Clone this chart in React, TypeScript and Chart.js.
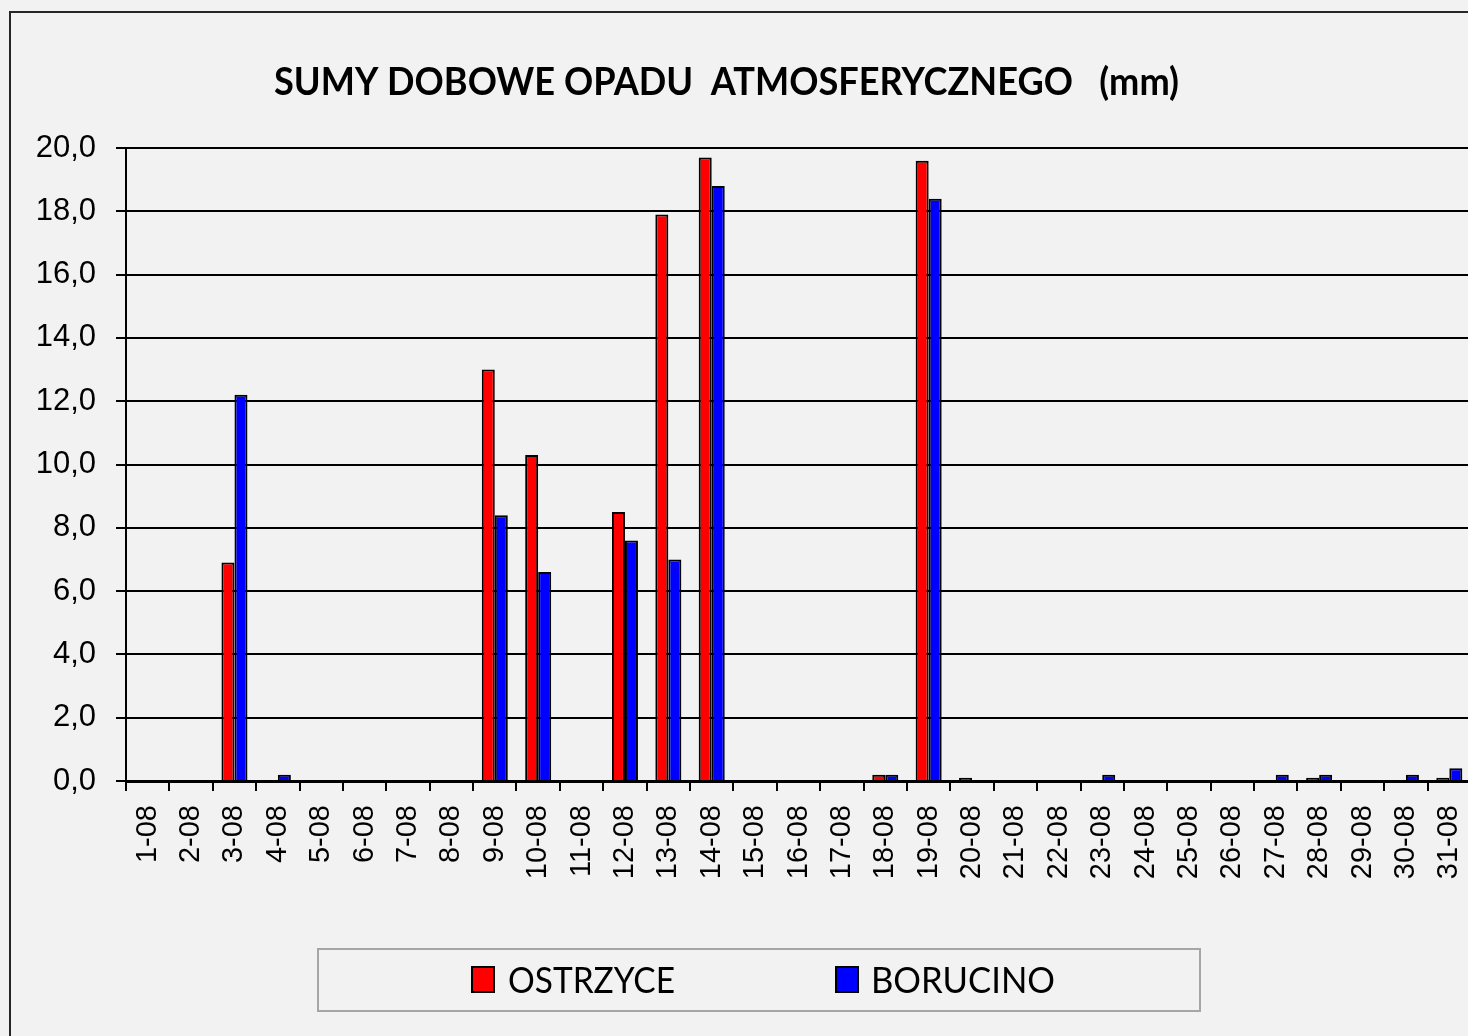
import { useEffect, useRef } from 'react';
import { Chart, registerables } from 'chart.js';

Chart.register(...registerables);

const TITLE = 'SUMY DOBOWE OPADU  ATMOSFERYCZNEGO   (mm)';
const DAYS = [
  '1-08', '2-08', '3-08', '4-08', '5-08', '6-08', '7-08', '8-08', '9-08', '10-08',
  '11-08', '12-08', '13-08', '14-08', '15-08', '16-08', '17-08', '18-08', '19-08', '20-08',
  '21-08', '22-08', '23-08', '24-08', '25-08', '26-08', '27-08', '28-08', '29-08', '30-08', '31-08',
];
const SERIES_NAMES = ['OSTRZYCE', 'BORUCINO'];
const OSTRZYCE = [0, 0, 6.9, 0, 0, 0, 0, 0, 13.0, 10.3, 0, 8.5, 17.9, 19.7, 0, 0, 0, 0.2, 19.6, 0.1, 0, 0, 0, 0, 0, 0, 0, 0.1, 0, 0, 0.1];
const BORUCINO = [0, 0, 12.2, 0.2, 0, 0, 0, 0, 8.4, 6.6, 0, 7.6, 7.0, 18.8, 0, 0, 0, 0.2, 18.4, 0, 0, 0, 0.2, 0, 0, 0, 0.2, 0.2, 0, 0.2, 0.4];
const Y_MIN = 0;
const Y_MAX = 20;
const Y_STEP = 2;

const BG = '#f2f2f2';

function fitText(ctx: CanvasRenderingContext2D, text: string, x: number, y: number, width: number, font: string) {
  ctx.save();
  ctx.font = font;
  ctx.textAlign = 'left';
  ctx.textBaseline = 'alphabetic';
  const w = ctx.measureText(text).width;
  ctx.translate(x, y);
  ctx.scale(width / w, 1);
  ctx.fillText(text, 0, 0);
  ctx.restore();
}

const decorPlugin = {
  id: 'decor',
  beforeDraw(chart: any) {
    const ctx = chart.ctx as CanvasRenderingContext2D;
    ctx.save();
    ctx.fillStyle = BG;
    ctx.fillRect(0, 0, chart.width, chart.height);
    ctx.strokeStyle = '#262626';
    ctx.lineWidth = 2;
    ctx.strokeRect(10, 12, chart.width + 100, chart.height + 100);
    ctx.restore();
  },
  afterDraw(chart: any) {
    const ctx = chart.ctx as CanvasRenderingContext2D;
    ctx.save();
    ctx.fillStyle = '#000';
    fitText(ctx, TITLE, 274, 95, 905, 'bold 38px Lato');

    // legend frame
    ctx.strokeStyle = '#a6a6a6';
    ctx.lineWidth = 2;
    ctx.strokeRect(318, 949, 882, 62);

    const items = [
      { mx: 471, tx: 508, tw: 167 },
      { mx: 835, tx: 871, tw: 184 },
    ];
    chart.data.datasets.forEach((ds: any, i: number) => {
      const it = items[i];
      ctx.fillStyle = ds.backgroundColor;
      ctx.fillRect(it.mx, 966, 24, 27);
      ctx.strokeStyle = '#000';
      ctx.lineWidth = 2;
      ctx.strokeRect(it.mx + 1, 967, 22, 25);
      ctx.fillStyle = '#000';
      fitText(ctx, ds.label, it.tx, 993, it.tw, '37px Lato');
    });
    ctx.restore();
  },
};

export default function App() {
  const ref = useRef<HTMLCanvasElement | null>(null);

  useEffect(() => {
    if (!ref.current) return;
    const chart = new Chart(ref.current, {
      type: 'bar',
      data: {
        labels: DAYS,
        datasets: [
          {
            label: SERIES_NAMES[0],
            data: OSTRZYCE,
            backgroundColor: '#ff0000',
            borderColor: '#000000',
            borderWidth: 2,
            categoryPercentage: 0.6,
            barPercentage: 1.0,
          },
          {
            label: SERIES_NAMES[1],
            data: BORUCINO,
            backgroundColor: '#0000ff',
            borderColor: '#000000',
            borderWidth: 2,
            categoryPercentage: 0.6,
            barPercentage: 1.0,
          },
        ],
      },
      options: {
        animation: false,
        responsive: false,
        maintainAspectRatio: false,
        devicePixelRatio: 1,
        layout: { padding: { left: 0, right: 9, top: 148, bottom: 0 } },
        plugins: {
          legend: { display: false },
          title: { display: false },
          tooltip: { enabled: false },
        },
        scales: {
          x: {
            offset: true,
            grid: {
              display: true,
              offset: true,
              drawOnChartArea: false,
              drawTicks: true,
              tickLength: 10,
              color: '#000',
              lineWidth: 2,
            },
            border: { display: true, color: '#000', width: 3 },
            ticks: {
              autoSkip: false,
              maxRotation: 90,
              minRotation: 90,
              padding: 14,
              color: '#000',
              font: { family: 'Liberation Sans', size: 29 },
            },
            afterFit(scale: any) {
              scale.height = 255;
              scale.paddingLeft = 0;
              scale.paddingRight = 0;
            },
          },
          y: {
            min: Y_MIN,
            max: Y_MAX,
            ticks: {
              stepSize: Y_STEP,
              padding: 20,
              color: '#000',
              font: { family: 'Liberation Sans', size: 31 },
              callback: (v: any) => Number(v).toFixed(1).replace('.', ','),
            },
            grid: {
              color: '#000',
              lineWidth: 2,
              drawTicks: true,
              tickLength: 10,
            },
            border: { display: true, color: '#000', width: 2 },
            afterFit(scale: any) {
              scale.width = 126;
              scale.paddingTop = 0;
              scale.paddingBottom = 0;
            },
          },
        },
      },
      plugins: [decorPlugin],
    });
    return () => chart.destroy();
  }, []);

  return (
    <div style={{ position: 'fixed', left: 0, top: 0, width: '100vw', height: '100vh', overflow: 'hidden', background: BG }}>
      <canvas ref={ref} width={1480} height={1036} style={{ display: 'block', width: 1480, height: 1036 }} />
    </div>
  );
}
